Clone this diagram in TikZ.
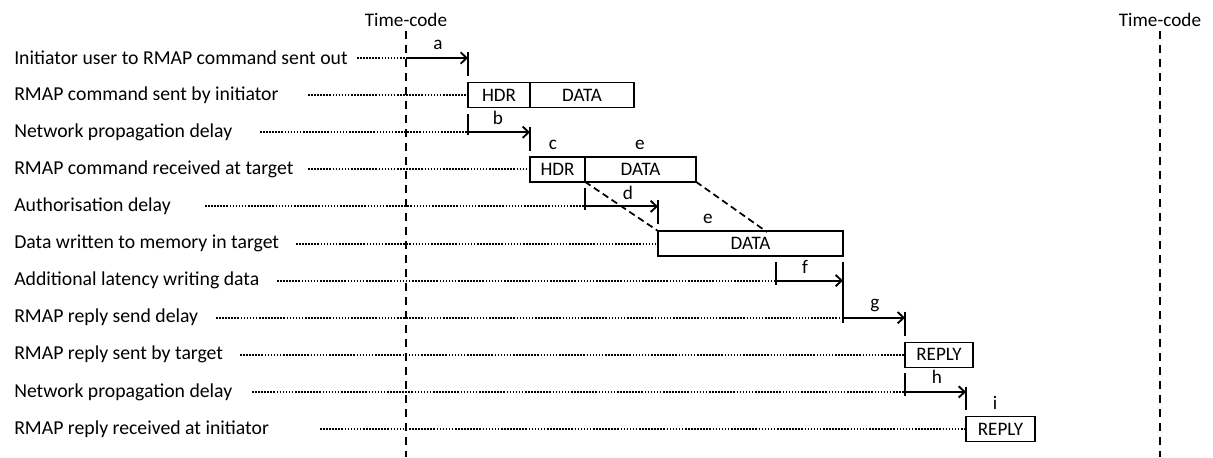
\documentclass[tikz,border=0pt]{standalone}
\usepackage{fontspec}
\setmainfont{Carlito}
\usetikzlibrary{positioning,arrows.meta}

\begin{document}
\begin{tikzpicture}[x=0.75pt,y=-0.75pt,
    rowtext/.style={anchor=west,inner sep=0pt,font=\fontsize{14.8}{16}\selectfont},
    evtext/.style={inner sep=0pt,font=\fontsize{14.4}{16}\selectfont},
    leader/.style={line width=1.5pt,dash pattern=on 1.2pt off 1.1pt},
    tcline/.style={line width=1.6pt,dash pattern=on 6pt off 4.5pt},
    skew/.style={line width=1.3pt,dash pattern=on 5pt off 3pt},
    pkt/.style={draw,line width=1.1pt,minimum height=18.75pt,inner sep=0pt,outer sep=0pt,font=\fontsize{14.3}{16}\selectfont},
    span/.style={line width=1.5pt,-{Straight Barb[length=4.5pt,width=8.5pt,line width=1.4pt]}},
    tick/.style={line width=1.5pt}]
  \useasboundingbox (0,0) rectangle (1213,457);

  % time-code marks
  \node[evtext] (tcA) at (406,20) {Time-code};
  \node[evtext] (tcB) at (1160,20) {Time-code};
  \coordinate (tcAend) at (406,457);
  \coordinate (tcBend) at (1160,457);
  \draw[tcline] ([yshift=-3pt]tcA.south) -- (tcAend);
  \draw[tcline] ([yshift=-3pt]tcB.south) -- (tcBend);

  % row labels
  \node[rowtext] (r1) at (14,58) {Initiator user to RMAP command sent out};
  \node[rowtext] (r2) at (14,95.1) {RMAP command sent by initiator};
  \node[rowtext] (r3) at (14,132.2) {Network propagation delay};
  \node[rowtext] (r4) at (14,169.3) {RMAP command received at target};
  \node[rowtext] (r5) at (14,206.4) {Authorisation delay};
  \node[rowtext] (r6) at (14,243.5) {Data written to memory in target};
  \node[rowtext] (r7) at (14,280.6) {Additional latency writing data};
  \node[rowtext] (r8) at (14,317.7) {RMAP reply send delay};
  \node[rowtext] (r9) at (14,354.8) {RMAP reply sent by target};
  \node[rowtext] (r10) at (14,391.9) {Network propagation delay};
  \node[rowtext] (r11) at (14,429) {RMAP reply received at initiator};

  % packets
  \node[pkt,anchor=west,minimum width=46.5pt] (cmdHdr) at (468,95.1) {HDR};
  \node[pkt,right=0pt of cmdHdr,minimum width=78pt] (cmdData) {DATA};
  \node[pkt,anchor=west,minimum width=41.25pt] (rxHdr) at (530,169.3) {HDR};
  \node[pkt,right=0pt of rxHdr,minimum width=83.25pt] (rxData) {DATA};
  \node[pkt,anchor=west,minimum width=138.75pt] (memData) at (658,243.5) {DATA};
  \node[pkt,anchor=west,minimum width=51pt] (replyTx) at (905,354.8) {REPLY};
  \node[pkt,anchor=west,minimum width=51.75pt] (replyRx) at (966,429) {REPLY};

  % arrow end points
  \coordinate (a0) at (406,58);   \coordinate (a1) at (468,58);
  \coordinate (b0) at (468,132.2); \coordinate (b1) at (530,132.2);
  \coordinate (d0) at (585,206.4); \coordinate (d1) at (658,206.4);
  \coordinate (f0) at (776,280.6); \coordinate (f1) at (843,280.6);
  \coordinate (g0) at (843,317.7); \coordinate (g1) at (905,317.7);
  \coordinate (h0) at (905,391.9); \coordinate (h1) at (966,391.9);

  % dotted leaders
  \coordinate (l1) at (357,58);
  \coordinate (l2) at (308,95.1);
  \coordinate (l3) at (260,132.2);
  \coordinate (l4) at (308,169.3);
  \coordinate (l5) at (205,206.4);
  \coordinate (l6) at (296,243.5);
  \coordinate (l7) at (277,280.6);
  \coordinate (l8) at (216,317.7);
  \coordinate (l9) at (240,354.8);
  \coordinate (l10) at (252,391.9);
  \coordinate (l11) at (320,429);
  \draw[leader] (l1) -- (a0);
  \draw[leader] (l2) -- (cmdHdr.west);
  \draw[leader] (l3) -- (b0);
  \draw[leader] (l4) -- (rxHdr.west);
  \draw[leader] (l5) -- (d0);
  \draw[leader] (l6) -- (memData.west);
  \draw[leader] (l7) -- (f0);
  \draw[leader] (l8) -- (g0);
  \draw[leader] (l9) -- (replyTx.west);
  \draw[leader] (l10) -- (h0);
  \draw[leader] (l11) -- (replyRx.west);

  % delays
  \draw[span] (a0) -- (a1);
  \draw[span] (b0) -- (b1);
  \draw[span] (d0) -- (d1);
  \draw[span] (f0) -- (f1);
  \draw[span] (g0) -- (g1);
  \draw[span] (h0) -- (h1);

  % tick marks
  \draw[tick] ([yshift=4.5pt]a1) -- ([yshift=-13.5pt]a1);
  \draw[tick] ([yshift=14pt]b0) -- ([yshift=-2pt]b0);
  \draw[tick] ([yshift=4pt]b1) -- ([yshift=-14pt]b1);
  \draw[tick] ([yshift=14pt]d0) -- ([yshift=-3pt]d0);
  \draw[tick] ([yshift=4.5pt]d1) -- ([yshift=-13.5pt]d1);
  \draw[tick] ([yshift=14pt]f0) -- ([yshift=-3pt]f0);
  \draw[tick] ([yshift=14pt]f1) -- ([yshift=-4pt]g0);
  \draw[tick] ([yshift=4.5pt]g1) -- ([yshift=-14pt]g1);
  \draw[tick] ([yshift=14pt]h0) -- ([yshift=-3pt]h0);
  \draw[tick] ([yshift=4pt]h1) -- ([yshift=-13.5pt]h1);

  % data skew between received command and memory write
  \coordinate (skew1) at (767,232);
  \draw[skew] (rxHdr.south east) -- (memData.north west);
  \draw[skew] (rxData.south east) -- (skew1);

  % delay names
  \node[evtext] (la) at (438,45) {a};
  \node[evtext] (lb) at (498,118) {b};
  \node[evtext] (lc) at (553,145) {c};
  \node[evtext] (le1) at (640,145) {e};
  \node[evtext] (ld) at (628,193) {d};
  \node[evtext] (le2) at (708,219) {e};
  \node[evtext] (lf) at (805,267) {f};
  \node[evtext] (lg) at (875,305) {g};
  \node[evtext] (lh) at (937,377) {h};
  \node[evtext] (li) at (995,403) {i};
\end{tikzpicture}
\end{document}
